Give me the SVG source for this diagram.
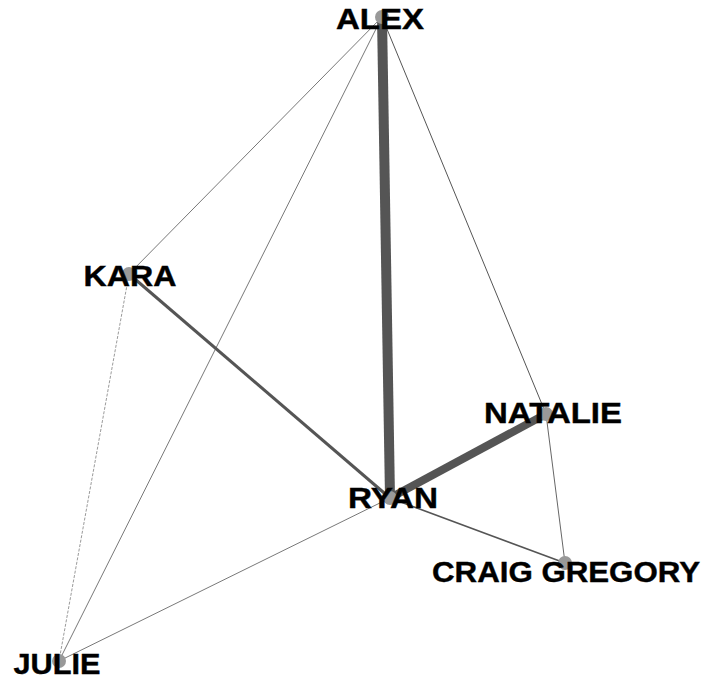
<svg xmlns="http://www.w3.org/2000/svg" width="704" height="679" viewBox="0 0 704 679">
  <style>
    .edge { stroke: #555; stroke-linecap: butt; fill: none; }
    .node circle { fill: #999; }
    .node text { font-family: "Liberation Sans", Arial, sans-serif; font-weight: bold; font-size: 29px; fill: #000; text-anchor: middle; stroke: #000; stroke-width: 0.4; }
  </style>
  <rect width="704" height="679" fill="#fff"/>
  <g id="edges">
    <line class="edge" x1="382" y1="17" x2="129" y2="274" stroke-width="0.8"/>
    <line class="edge" x1="382" y1="17" x2="59" y2="661" stroke-width="0.8"/>
    <line class="edge" x1="382" y1="17" x2="546" y2="414" stroke-width="1"/>
    <line class="edge" x1="129" y1="274" x2="59" y2="661" stroke-width="0.6" stroke-dasharray="3 1.5"/>
    <line class="edge" x1="390" y1="498" x2="59" y2="661" stroke-width="0.8"/>
    <line class="edge" x1="390" y1="498" x2="565" y2="563" stroke-width="1.6"/>
    <line class="edge" x1="546" y1="414" x2="565" y2="563" stroke-width="0.9"/>
    <line class="edge" x1="129" y1="274" x2="390" y2="498" stroke-width="3"/>
    <line class="edge" x1="390" y1="498" x2="546" y2="414" stroke-width="8"/>
    <line class="edge" x1="382" y1="17" x2="390" y2="498" stroke-width="10"/>
  </g>
  <g id="node-alex" class="node">
    <circle cx="382" cy="17" r="7"/>
    <text x="380" y="29" textLength="88" lengthAdjust="spacingAndGlyphs">ALEX</text>
  </g>
  <g id="node-kara" class="node">
    <circle cx="129" cy="274" r="7"/>
    <text x="130" y="286" textLength="93" lengthAdjust="spacingAndGlyphs">KARA</text>
  </g>
  <g id="node-natalie" class="node">
    <circle cx="546" cy="414" r="7"/>
    <text x="553" y="423" textLength="138" lengthAdjust="spacingAndGlyphs">NATALIE</text>
  </g>
  <g id="node-ryan" class="node">
    <circle cx="390" cy="498" r="7"/>
    <text x="393" y="508" textLength="90" lengthAdjust="spacingAndGlyphs">RYAN</text>
  </g>
  <g id="node-craig-gregory" class="node">
    <circle cx="565" cy="563" r="7"/>
    <text x="566" y="582" textLength="268" lengthAdjust="spacingAndGlyphs">CRAIG GREGORY</text>
  </g>
  <g id="node-julie" class="node">
    <circle cx="59" cy="661" r="7"/>
    <text x="57" y="674" textLength="87" lengthAdjust="spacingAndGlyphs">JULIE</text>
  </g>
</svg>
